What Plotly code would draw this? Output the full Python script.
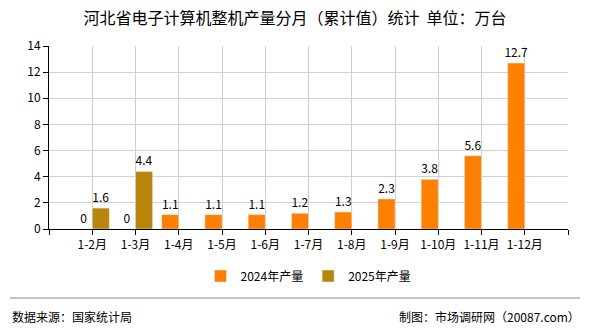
import plotly.graph_objects as go

categories = ["1-2月", "1-3月", "1-4月", "1-5月", "1-6月", "1-7月", "1-8月", "1-9月", "1-10月", "1-11月", "1-12月"]
values_2024 = [0, 0, 1.1, 1.1, 1.1, 1.2, 1.3, 2.3, 3.8, 5.6, 12.7]
values_2025 = [1.6, 4.4, None, None, None, None, None, None, None, None, None]
y_ticks = [0, 2, 4, 6, 8, 10, 12, 14]

FONT = "Noto Sans CJK SC"
idx = list(range(len(categories)))

def fmt(v):
    if v is None:
        return ""
    return f"{v:g}"

fig = go.Figure()
fig.add_trace(go.Bar(
    x=idx, y=values_2024, name="2024年产量", marker_color="#FF8000",
    text=[fmt(v) for v in values_2024], textposition="outside", constraintext="none",
    textfont=dict(color="#000000", size=12, family=FONT), cliponaxis=False,
))
fig.add_trace(go.Bar(
    x=idx, y=values_2025, name="2025年产量", marker_color="#B8860B",
    text=[fmt(v) for v in values_2025], textposition="outside", constraintext="none",
    textfont=dict(color="#000000", size=12, family=FONT), cliponaxis=False,
))

tickvals = [-1] + idx + [len(categories)]
ticktext = [""] + categories + [""]

fig.update_layout(
    width=590, height=330,
    margin=dict(l=49, r=22, t=46, b=101),
    paper_bgcolor="white", plot_bgcolor="white",
    barmode="group", bargap=0.21, bargroupgap=0,
    font=dict(family=FONT, size=12, color="#000000"),
    title=dict(text="河北省电子计算机整机产量分月（累计值）统计  单位：万台",
               x=0.5, xanchor="center", y=1 - 18 / 330, yanchor="middle",
               font=dict(size=16, color="#000000", family=FONT)),
    showlegend=True,
    legend=dict(orientation="h", x=0.5, xanchor="center", y=-(276 - 229) / 183, yanchor="middle",
                font=dict(size=12, family=FONT), itemwidth=30, traceorder="normal"),
    uniformtext=dict(mode=False),
)

fig.update_xaxes(
    range=[-1, len(categories)], tickmode="array", tickvals=tickvals, ticktext=ticktext,
    showgrid=True, gridcolor="#d0d0d0", gridwidth=1,
    showline=True, linecolor="#000000", linewidth=1,
    ticks="outside", ticklen=5, tickcolor="#000000",
    tickfont=dict(size=12, family=FONT, color="#000000"),
    zeroline=False,
)
fig.update_yaxes(
    range=[0, 14], tickmode="array", tickvals=y_ticks,
    showgrid=True, gridcolor="#d0d0d0", gridwidth=1,
    showline=True, linecolor="#000000", linewidth=1,
    ticks="outside", ticklen=5, tickcolor="#000000",
    tickfont=dict(size=12, family=FONT, color="#000000"),
    zeroline=False,
)

# footer line and texts
fig.add_shape(type="line", xref="paper", yref="paper",
              x0=(10 - 49) / 519, x1=(580 - 49) / 519,
              y0=-(298 - 229) / 183, y1=-(298 - 229) / 183,
              line=dict(color="#888888", width=1))
fig.add_annotation(text="数据来源：国家统计局", xref="paper", yref="paper",
                   x=(10 - 49) / 519, xanchor="left", y=-(316 - 229) / 183, yanchor="middle",
                   showarrow=False, font=dict(size=12, family=FONT, color="#000000"))
fig.add_annotation(text="制图：市场调研网（20087.com）", xref="paper", yref="paper",
                   x=(582 - 49) / 519, xanchor="right", y=-(316 - 229) / 183, yanchor="middle",
                   showarrow=False, font=dict(size=12, family=FONT, color="#000000"))

fig.write_html("out.html")
